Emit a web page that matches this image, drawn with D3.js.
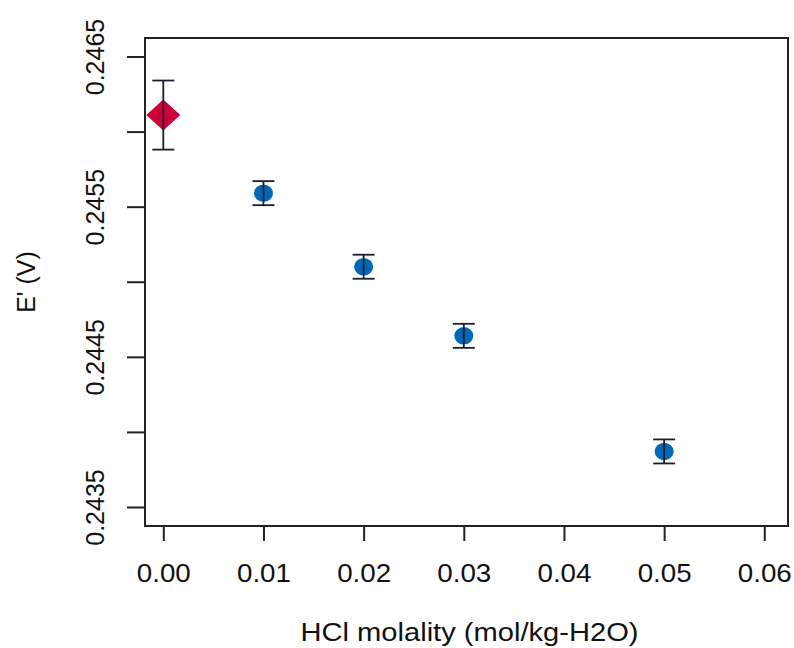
<!DOCTYPE html>
<html>
<head>
<meta charset="utf-8">
<script src="https://cdn.jsdelivr.net/npm/d3@7"></script>
<style>
  body { margin: 0; background: #fff; }
  text { font-family: "Liberation Sans", Arial, sans-serif; fill: #111; }
</style>
</head>
<body>
<svg id="chart"></svg>
<script>
// data
var molality  = [0.00, 0.01, 0.02, 0.03, 0.05];
var ePrime    = [0.24611, 0.24559, 0.24510, 0.24464, 0.24387];
var errVals   = [0.00023, 0.00008, 0.00008, 0.00008, 0.00008];
var xTicks    = [0.00, 0.01, 0.02, 0.03, 0.04, 0.05, 0.06];
var yTicks    = [0.2435, 0.2440, 0.2445, 0.2450, 0.2455, 0.2460, 0.2465];
var yLabelled = [0.2435, 0.2445, 0.2455, 0.2465];

var svgWidth = 794, svgHeight = 648;
var box = {left: 145, right: 788, top: 38, bottom: 526};

var svg = d3.select('#chart')
    .attr("width", svgWidth)
    .attr("height", svgHeight);

var xScale = d3.scaleLinear()
    .domain([0, 0.06])
    .range([163.3, 764.3]);

var yScale = d3.scaleLinear()
    .domain([0.2435, 0.2465])
    .range([507, 56.5]);

// x axis
var x_axis = d3.axisBottom(xScale)
    .tickValues(xTicks)
    .tickSize(15)
    .tickFormat(d3.format(".2f"));

var gx = svg.append("g")
    .attr("transform", "translate(0," + box.bottom + ")")
    .call(x_axis);
gx.select(".domain").remove();
gx.selectAll("line").attr("stroke", "#222").attr("stroke-width", 2);
gx.selectAll("text")
    .attr("y", 56)
    .attr("dy", null)
    .attr("font-size", 26)
    .attr("textLength", 54)
    .attr("lengthAdjust", "spacingAndGlyphs")
    .style("fill", "#111");

// y axis
var y_axis = d3.axisLeft(yScale)
    .tickValues(yTicks)
    .tickSize(18)
    .tickFormat(function (d) {
        return yLabelled.some(function (v) { return Math.abs(v - d) < 1e-9; }) ? d3.format(".4f")(d) : "";
    });

var gy = svg.append("g")
    .attr("transform", "translate(" + box.left + ",0)")
    .call(y_axis);
gy.select(".domain").remove();
gy.selectAll("line").attr("stroke", "#222").attr("stroke-width", 2);
gy.selectAll("text")
    .attr("x", null)
    .attr("dy", null)
    .attr("text-anchor", "middle")
    .attr("transform", "translate(-41.5,0) rotate(-90)")
    .attr("font-size", 25)
    .style("fill", "#111");

// plot box
svg.append("rect")
    .attr("x", box.left)
    .attr("y", box.top)
    .attr("width", box.right - box.left)
    .attr("height", box.bottom - box.top)
    .attr("fill", "none")
    .attr("stroke", "#222")
    .attr("stroke-width", 2);

// points
var pts = molality.map(function (m, i) {
    return {x: m, y: ePrime[i], e: errVals[i], first: i == 0};
});

svg.selectAll("ellipse.pt")
    .data(pts.filter(function (d) { return !d.first; }))
    .enter()
    .append("ellipse")
    .attr("class", "pt")
    .attr("cx", function (d) { return xScale(d.x); })
    .attr("cy", function (d) { return yScale(d.y); })
    .attr("rx", 9.5)
    .attr("ry", 8.7)
    .attr("fill", "#0068B4");

svg.selectAll("path.dia")
    .data(pts.filter(function (d) { return d.first; }))
    .enter()
    .append("path")
    .attr("class", "dia")
    .attr("d", function (d) {
        var cx = xScale(d.x), cy = yScale(d.y), w = 17, h = 15.5;
        return "M" + (cx - w) + "," + cy + "L" + cx + "," + (cy - h) +
               "L" + (cx + w) + "," + cy + "L" + cx + "," + (cy + h) + "Z";
    })
    .attr("fill", "#CC0039");

// error bars
var bars = svg.selectAll("g.err")
    .data(pts)
    .enter()
    .append("g")
    .attr("class", "err")
    .attr("stroke", "#1c1c2a")
    .attr("stroke-width", 1.8);

bars.append("line")
    .attr("x1", function (d) { return xScale(d.x); })
    .attr("x2", function (d) { return xScale(d.x); })
    .attr("y1", function (d) { return yScale(d.y + d.e); })
    .attr("y2", function (d) { return yScale(d.y - d.e); });

[1, -1].forEach(function (s) {
    bars.append("line")
        .attr("x1", function (d) { return xScale(d.x) - 11; })
        .attr("x2", function (d) { return xScale(d.x) + 11; })
        .attr("y1", function (d) { return yScale(d.y + s * d.e); })
        .attr("y2", function (d) { return yScale(d.y + s * d.e); });
});

// axis titles
svg.append("text")
    .attr("x", (box.left + box.right) / 2 + 3)
    .attr("y", 641)
    .attr("text-anchor", "middle")
    .attr("font-size", 26)
    .attr("textLength", 338)
    .attr("lengthAdjust", "spacingAndGlyphs")
    .text("HCl molality (mol/kg-H2O)");

svg.append("text")
    .attr("transform", "translate(35," + ((box.top + box.bottom) / 2) + ") rotate(-90)")
    .attr("text-anchor", "middle")
    .attr("font-size", 25)
    .text("E' (V)");
</script>
</body>
</html>
